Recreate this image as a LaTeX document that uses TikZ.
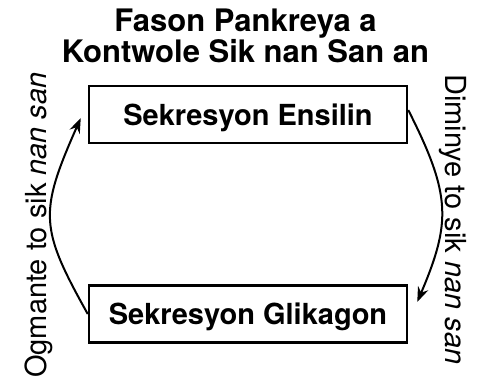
\documentclass[tikz,border=0pt]{standalone}
\usepackage{fontspec}
\setmainfont{TeX Gyre Heros}
\usetikzlibrary{arrows.meta}
\tikzset{
  titletext/.style={font=\fontsize{31}{31}\selectfont\bfseries, inner sep=0pt, anchor=base},
  stagebox/.style={draw, line width=2.5pt, rectangle, minimum width=318pt, minimum height=57pt,
    inner sep=0pt, font=\fontsize{29}{29}\selectfont\bfseries, text height=21pt, text depth=0pt},
  sidelabel/.style={font=\fontsize{29}{29}\selectfont, inner sep=0pt, anchor=base},
  flow/.style={line width=2pt, -{Stealth[length=15pt,width=11pt]}}
}
\begin{document}
\begin{tikzpicture}[x=1pt,y=-1pt]
\useasboundingbox (0,0) rectangle (479,381);
\node[titletext] (title1) at (245.5,31) {Fason Pankreya a};
\node[titletext] (title2) at (245.5,62) {Kontwole Sik nan San an};
\node[stagebox] (top) at (248,114.5) {Sekresyon Ensilin};
\node[stagebox] (bot) at (248,314) {Sekresyon Glikagon};
\node[sidelabel, rotate=90] (left) at (46.5,225) {Ogmante to sik \textit{nan san}};
\node[sidelabel, rotate=-90] (right) at (445.5,219.5) {Diminye to sik \textit{nan san}};
\draw[flow] (bot.west) .. controls +(-48,-86) and +(-42,95) .. ([shift={(-7,3.5)}]top.west);
\draw[flow] ([shift={(0,-4.5)}]top.east) .. controls +(43,85) and +(34,-80) .. ([shift={(9,-12)}]bot.east);
\end{tikzpicture}
\end{document}
